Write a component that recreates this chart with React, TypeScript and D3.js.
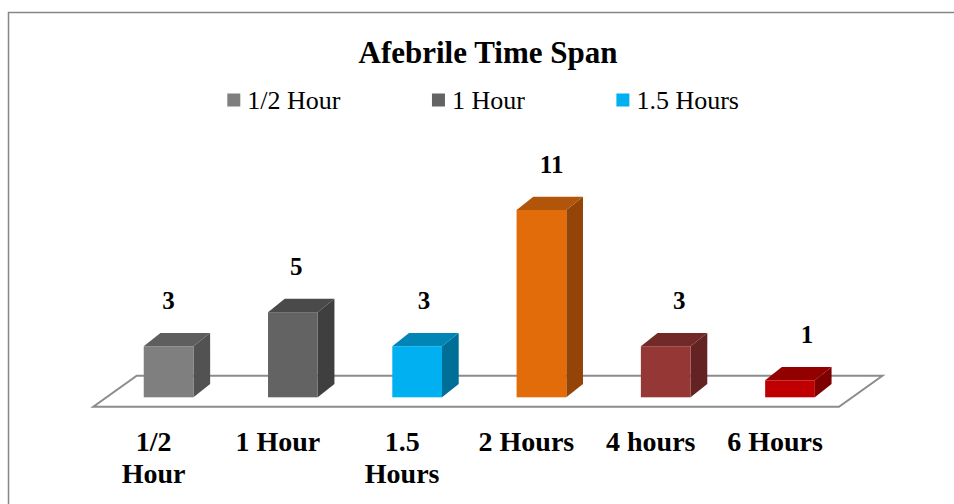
import React from "react";
import * as d3 from "d3";

const categories = ["1/2 Hour", "1 Hour", "1.5 Hours", "2 Hours", "4 hours", "6 Hours"];
const values = [3, 5, 3, 11, 3, 1];
const frontColors = ["#7f7f7f", "#636363", "#00b0f0", "#e36c0a", "#953735", "#c00000"];
const topColors = ["#5e5e5e", "#4a4a4a", "#0085b6", "#b0550a", "#722a28", "#930000"];
const sideColors = ["#525252", "#3f3f3f", "#006f98", "#944407", "#632322", "#7c0000"];
const legendLabels = ["1/2 Hour", "1 Hour", "1.5 Hours"];
const legendColors = ["#7f7f7f", "#636363", "#00b0f0"];
const title = "Afebrile Time Span";

const FONT = "'Liberation Serif', 'Times New Roman', Times, serif";

let ctx: CanvasRenderingContext2D | null = null;
function measure(text: string, font: string): number {
  if (!ctx) {
    const c = document.createElement("canvas");
    ctx = c.getContext("2d");
  }
  if (!ctx) return text.length * 14;
  ctx.font = font;
  return ctx.measureText(text).width;
}

function wrap(text: string, maxW: number, font: string): string[] {
  const words = text.split(" ");
  const lines: string[] = [];
  let cur = "";
  for (const w of words) {
    const t = cur ? cur + " " + w : w;
    if (cur && measure(t, font) > maxW) {
      lines.push(cur);
      cur = w;
    } else cur = t;
  }
  if (cur) lines.push(cur);
  return lines;
}

export default function App() {
  const W = 954;
  const H = 504;

  // floor geometry
  const floorFrontY = 406.7;
  const floorFrontX0 = 93.3;
  const floorFrontX1 = 839;
  const floorDx = 43.4;
  const floorDy = -31;
  const barPlaneFrac = 0.303;
  const shiftX = floorDx * barPlaneFrac;
  const baseY = floorFrontY + floorDy * barPlaneFrac;

  const x = d3
    .scaleBand<string>()
    .domain(categories)
    .range([floorFrontX0 + shiftX, floorFrontX1 + shiftX])
    .paddingInner(0.6)
    .paddingOuter(0.3);
  const y = d3.scaleLinear().domain([0, 11]).range([baseY, 210]);
  const bw = x.bandwidth();
  const bdx = 16.7;
  const bdy = -13.3;

  const floorPts: [number, number][] = [
    [floorFrontX0, floorFrontY],
    [floorFrontX1, floorFrontY],
    [floorFrontX1 + floorDx, floorFrontY + floorDy],
    [floorFrontX0 + floorDx, floorFrontY + floorDy],
  ];
  const line = d3.line();

  // legend layout
  const legendFont = `26px ${FONT}`;
  let lx = 227.3;
  const legendItems = legendLabels.map((lab, i) => {
    const item = { x: lx, label: lab, color: legendColors[i] };
    const tw = measure(lab, legendFont);
    lx = lx + 20 + tw + 91.5;
    return item;
  });

  const axisFont = `bold 28px ${FONT}`;

  return (
    <svg
      width={W}
      height={H}
      style={{ position: "absolute", left: 0, top: 0, display: "block", overflow: "hidden" }}
    >
      <rect x={0} y={0} width={W} height={H} fill="#ffffff" />
      <rect x={8.5} y={12.5} width={1200} height={800} fill="#ffffff" stroke="#868686" strokeWidth={1.5} />

      <text
        x={488}
        y={63}
        textAnchor="middle"
        fontFamily={FONT}
        fontWeight="bold"
        fontSize={31}
        fill="#000"
      >
        {title}
      </text>

      {legendItems.map((it, i) => (
        <g key={i}>
          <rect x={it.x} y={93.5} width={13} height={13} fill={it.color} />
          <text x={it.x + 20} y={109} fontFamily={FONT} fontSize={26} fill="#000">
            {it.label}
          </text>
        </g>
      ))}

      <path d={line(floorPts)! + "Z"} fill="#ffffff" stroke="#8c8c8c" strokeWidth={2} />

      {categories.map((c, i) => {
        const x0 = x(c)!;
        const yt = y(values[i]);
        const top = [
          [x0, yt],
          [x0 + bw, yt],
          [x0 + bw + bdx, yt + bdy],
          [x0 + bdx, yt + bdy],
        ] as [number, number][];
        const side = [
          [x0 + bw, yt],
          [x0 + bw + bdx, yt + bdy],
          [x0 + bw + bdx, baseY + bdy],
          [x0 + bw, baseY],
        ] as [number, number][];
        return (
          <g key={c}>
            <path d={line(side)! + "Z"} fill={sideColors[i]} />
            <path d={line(top)! + "Z"} fill={topColors[i]} />
            <rect x={x0} y={yt} width={bw} height={baseY - yt} fill={frontColors[i]} />
            <text
              x={x0 + bw / 2 + i * 3.4}
              y={yt + bdy - 23.5}
              textAnchor="middle"
              fontFamily={FONT}
              fontWeight="bold"
              fontSize={25}
              fill="#000"
            >
              {values[i]}
            </text>
          </g>
        );
      })}

      {categories.map((c) => {
        const cx = x(c)! + bw / 2 - 15;
        const lines = wrap(c, 100, axisFont);
        return (
          <text
            key={"lab" + c}
            textAnchor="middle"
            fontFamily={FONT}
            fontWeight="bold"
            fontSize={28}
            fill="#000"
          >
            {lines.map((l, j) => (
              <tspan key={j} x={cx} y={450.7 + j * 32.6}>
                {l}
              </tspan>
            ))}
          </text>
        );
      })}
    </svg>
  );
}
